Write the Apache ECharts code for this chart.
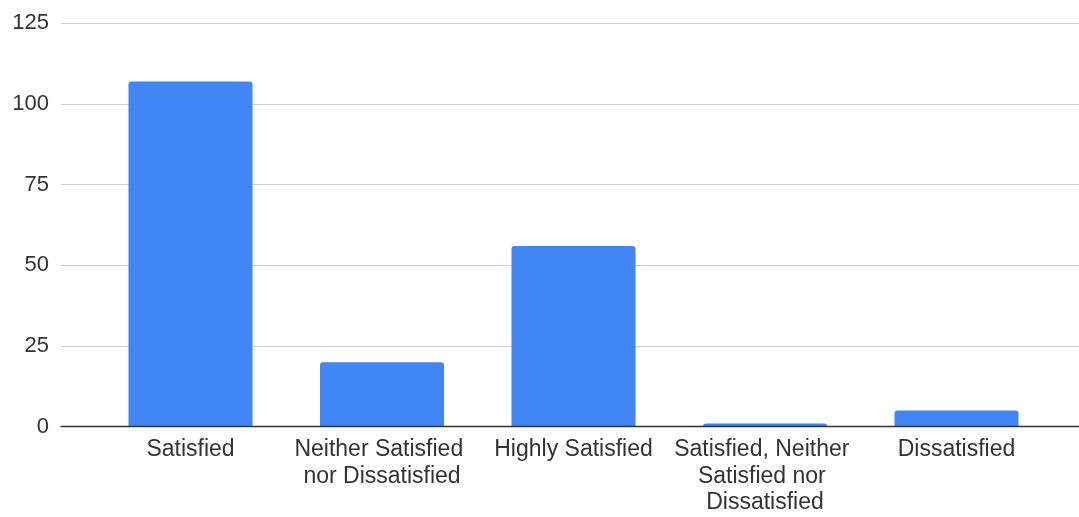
<!DOCTYPE html>
<html>
<head>
<meta charset="utf-8">
<script src="https://cdn.jsdelivr.net/npm/echarts@6/dist/echarts.min.js"></script>
<style>
html,body{margin:0;padding:0;background:#fff;}
#chart{width:1079px;height:517px;}
</style>
</head>
<body>
<div id="chart"></div>
<script>
var categories = ["Satisfied", "Neither Satisfied nor Dissatisfied", "Highly Satisfied", "Satisfied, Neither Satisfied nor Dissatisfied", "Dissatisfied"];
var values = [107, 20, 56, 1, 5];
var yTicks = [0, 25, 50, 75, 100, 125];

var font = "'Liberation Sans', Arial, sans-serif";
var chart = echarts.init(document.getElementById('chart'));
chart.setOption({
  animation: false,
  backgroundColor: '#ffffff',
  grid: [
    {left: 61, right: 0, top: 23.3, bottom: 90.3, containLabel: false},
    {left: 94.75, right: 26.75, top: 23.3, bottom: 90.3, containLabel: false}
  ],
  xAxis: [
    {
      gridIndex: 0, type: 'category', data: [''],
      axisLine: {show: true, lineStyle: {color: '#333333', width: 1.3}},
      axisTick: {show: false}, axisLabel: {show: false}, splitLine: {show: false}, z: 5
    },
    {
      gridIndex: 1, type: 'category', data: categories,
      axisLine: {show: false}, axisTick: {show: false},
      axisLabel: {
        interval: 0, margin: 10, color: '#333333', fontFamily: font, fontSize: 23,
        lineHeight: 26.5, width: 188, overflow: 'break', align: 'center'
      }
    }
  ],
  yAxis: [
    {
      gridIndex: 0, type: 'value', min: yTicks[0], max: yTicks[yTicks.length - 1], interval: 25,
      axisLine: {show: false}, axisTick: {show: false},
      axisLabel: {margin: 12, color: '#333333', fontFamily: font, fontSize: 22},
      splitLine: {show: true, lineStyle: {color: '#cccccc', width: 1}}
    },
    {
      gridIndex: 1, type: 'value', min: yTicks[0], max: yTicks[yTicks.length - 1], interval: 25,
      show: false, splitLine: {show: false}
    }
  ],
  series: [{
    type: 'bar',
    xAxisIndex: 1, yAxisIndex: 1,
    data: values,
    barWidth: 124,
    itemStyle: {color: '#4285F4', borderRadius: [3, 3, 0, 0]},
    z: 2
  }]
});
</script>
</body>
</html>
